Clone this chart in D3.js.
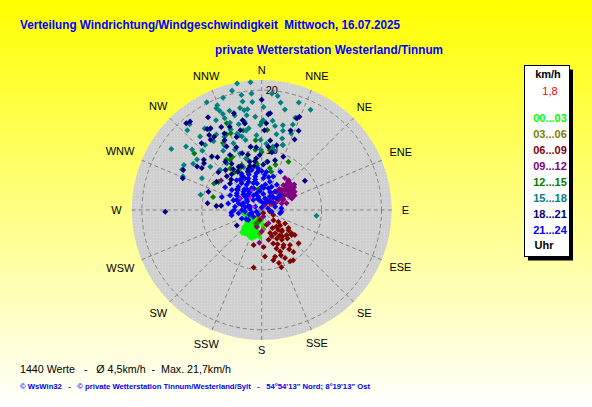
<!DOCTYPE html>
<html>
<head>
<meta charset="utf-8">
<script src="https://cdn.jsdelivr.net/npm/d3@7"></script>
<style>
  body { margin: 0; }
  svg { display: block; }
</style>
</head>
<body>
<script>
// -------- DATEN: [Richtung in Grad, Geschwindigkeit km/h] je Stundenblock --------

const directions = ["N","NNE","NE","ENE","E","ESE","SE","SSE","S","SSW","SW","WSW","W","WNW","NW","NNW"];
const ringTicks = [10, 20];
const maxSpeed = 21.7;

const h00_03 = [[228,3.3],[225,2.7],[212,2.6],[209,3.5],[197,2.9],[212,4.2],[200,4.1],[189,3.7],[204,4.9],[194,4.6],
  [221,3.8],[184,4.5],[230,2.2],[211,1.6],[180,1.7],[215,4.8],[174,2.5],[205,3.6],[218,3.1],[202,3.0],[192,2.2],
  [207,4.4],[199,5.0],[223,4.4],[260,3.1],[240,2.2],[250,2.8],[222,3.7],[195,4.3],[226,4.0],[216,3.3],[203,2.9],
  [217,2.1],[196,3.6],[232,3.1],[210,4.7],[220,5.0]];

const h03_06 = [[195,3.0],[200,2.0],[190,1.5],[205,2.5],[185,4.0],[175,3.2],[210,1.2]];

const h06_09 = [[153,0.6],[101,1.4],[131,2.6],[125,3.4],[138,3.7],[120,4.5],[124,5.4],[137,4.9],[150,4.5],[160,4.1],
  [167,5.1],[161,5.9],[146,6.0],[127,5.6],[128,6.3],[127,6.9],[141,7.5],[132,8.3],[156,7.6],[164,8.1],[167,8.6],
  [176,7.8],[193,6.0],[177,6.2],[159,4.7],[154,8.9],[151,9.8],[161,10.1],[188,9.7],[162,2.6],[113,2.1],[190,1.7],
  [149,3.5],[140,4.3],[135,5.9],[148,6.9],[159,6.9],[148,9.9],[143,8.8],[150,7.2],[155,6.3],[130,4.0],[135,4.8],
  [142,5.6],[130,6.5],[138,6.4],[145,5.2],[152,5.4],[157,8.2],[162,9.3],[145,8.0]];

const h09_12 = [[42,6.7],[36,6.6],[47,6.5],[58,6.2],[61,5.7],[55,5.4],[47,5.7],[41,5.5],[45,4.7],[57,4.6],[65,5.2],
  [51,3.9],[39,3.9],[59,3.2],[45,2.7],[63,2.5],[51,1.8],[72,3.5],[31,3.2],[27,1.9],[34,1.0],[325,5.8],[306,8.4],
  [184,5.5],[180,3.6],[197,2.9],[153,2.5],[166,1.1],[61,6.3],[65,4.0],[75,4.3],[69,5.4],[43,6.5],[53,6.0],[50,5.0],
  [50,6.2],[55,6.6],[44,6.1],[49,5.3],[60,5.0],[54,4.3],[62,4.0],[48,4.2],[57,3.6],[40,4.6],[66,6.0],[52,6.9]];

const h12_15 = [[338,15.6],[347,13.6],[355,11.7],[354,10.1],[0,9.7],[8,10.1],[29,9.2],[345,8.6],[323,8.7],[330,7.7],
  [285,8.4],[303,8.6],[325,10.3],[331,10.1],[354,7.5],[11,7.1],[310,14.7],[299,9.1],[338,13.8],[330,12.9],[335,13.9],
  [336,8.2],[324,7.8],[342,6.8],[354,7.8],[328,9.9],[0,14.7],[4,13.4],[18,11.4],[17,7.9],[14,6.6],[200,2.4],[350,3.5]];

const h15_18 = [[349,21.5],[355,21.4],[350,19.5],[355,19.5],[355,18.1],[348,17.4],[5,19.5],[8,19.2],[10,18.2],[13,17.2],
  [19,19.0],[26,18.6],[337,19.0],[337,18.0],[342,17.4],[344,16.4],[350,16.9],[351,16.0],[349,15.0],[351,13.8],
  [356,15.6],[359,14.2],[1,15.0],[4,16.1],[7,15.0],[9,14.2],[14,14.6],[20,15.2],[20,16.4],[15,13.7],[21,13.7],
  [11,12.9],[16,12.4],[18,11.4],[10,10.7],[4,11.1],[359,11.7],[356,12.5],[345,12.7],[342,13.4],[339,14.4],[333,13.7],
  [329,14.7],[327,16.0],[325,16.6],[320,18.7],[317,18.2],[304,18.2],[310,16.5],[311,15.4],[315,14.0],[319,14.4],
  [308,13.7],[300,15.0],[297,14.9],[293,14.3],[304,13.8],[298,11.3],[310,11.2],[314,9.6],[323,9.7],[337,12.1],
  [339,10.1],[343,9.0],[350,10.7],[359,10.1],[284,10.5],[96,9.2],[336,18.6],[338,17.3],[338,16.5],[350,18.4],
  [349,13.5],[12,10.1],[6,8.1],[336,11.0],[337,7.8],[325,14.0],[320,16.0],[1,17.2],[340,15.5],[345,14.8],[343,13.0],
  [347,12.0],[333,16.8],[330,12.5],[327,11.8],[352,17.0],[341,19.8],[346,20.5],[333,20.2]];

const h18_21 = [[0,18.4],[344,16.8],[348,15.3],[349,14.7],[5,16.2],[2,13.3],[3,14.5],[25,14.6],[25,13.0],[319,19.2],
  [326,16.3],[325,15.3],[324,14.5],[318,15.0],[311,12.8],[320,11.5],[318,9.0],[315,7.2],[277,9.1],[275,7.6],[276,6.8],
  [269,16.1],[310,5.4],[238,4.9],[56,8.7],[22,9.6],[15,8.6],[7,11.7],[355,10.5],[341,12.9],[339,14.9],[332,13.2],
  [331,12.1],[4,16.0],[21,16.4],[22,16.8],[20,14.1],[13,11.1],[6,10.6],[10,9.8],[7,8.1],[330,17.9],[321,19.0],
  [328,16.1],[327,14.6],[334,15.4],[334,14.2],[345,13.8],[338,11.3],[341,10.0],[350,10.7],[330,10.6],[317,12.2],
  [309,12.4],[304,13.0],[297,14.7],[292,14.2],[305,12.2],[311,9.6],[302,8.9],[289,9.4],[323,10.1],[327,9.2],
  [332,8.2],[346,8.3],[354,8.7],[335,8.0],[345,7.6],[352,8.2],[328,7.5],[340,6.8],[320,7.8],[355,6.5],[310,6.9],
  [342,7.2],[350,7.4],[330,6.6],[2,7.6],[358,9.2],[325,8.3],[314,8.1],[346,9.5]];

const h21_24 = [[331,6.9],[346,6.9],[355,7.0],[7,6.4],[19,5.9],[320,6.5],[332,6.0],[349,5.7],[3,5.3],[16,4.9],[31,4.9],
  [304,6.0],[315,5.5],[329,4.9],[343,4.7],[0,3.9],[17,3.8],[36,3.8],[51,3.9],[295,5.8],[304,5.0],[315,4.3],[327,3.6],
  [343,2.9],[6,2.7],[32,2.6],[52,3.2],[289,5.0],[298,4.1],[304,3.0],[320,2.2],[350,1.6],[31,1.6],[60,2.2],[277,4.5],
  [284,3.4],[287,2.3],[297,1.2],[0,0.4],[76,1.1],[262,3.9],[264,2.8],[255,1.7],[220,0.9],[247,3.6],[233,2.8],
  [231,1.8],[260,5.1],[281,5.7],[100,1.7],[100,3.1],[85,3.3],[302,7.2],[288,7.0],[95,3.3],[292,4.5],[265,5.1],
  [26,7.1],[337,5.7],[5,5.9],[323,5.6],[23,4.2],[335,4.0],[346,2.3],[16,2.0],[309,3.6],[286,4.0],[252,0.9],
  [286,2.0],[76,2.3],[340,6.3],[352,6.2],[0,6.5],[12,5.6],[325,6.2],[310,5.2],[300,4.8],[320,4.5],[335,5.2],
  [350,4.5],[8,4.3],[25,3.3],[40,2.9],[300,2.8],[315,3.2],[330,2.8],[340,2.0],[10,1.2],[280,2.8],[270,3.3],
  [275,2.0],[250,2.2],[240,3.0],[270,4.6],[290,3.3],[355,3.2],[5,3.7],[45,2.0],[320,3.5],[310,4.0],[340,3.8],
  [348,5.2],[325,4.2]];

const highlight = [[298,4.1],[292,1.5],[333,3.7],[316,2.8]];
const current = [[65,1.8]];

const series = [
  { label: "00...03", color: "#00ff00", values: h00_03 },
  { label: "03...06", color: "#808000", values: h03_06 },
  { label: "06...09", color: "#800000", values: h06_09 },
  { label: "09...12", color: "#800080", values: h09_12 },
  { label: "12...15", color: "#008000", values: h12_15 },
  { label: "15...18", color: "#008080", values: h15_18 },
  { label: "18...21", color: "#000080", values: h18_21 },
  { label: "21...24", color: "#0000ff", values: h21_24 }
];

// -------- LAYOUT --------
const width = 592, height = 407;
const cx = 261.7, cy = 210, outerR = 130;
const font = "'Liberation Sans', Arial, sans-serif";

const svg = d3.select("body").append("svg")
  .attr("width", width)
  .attr("height", height);

const defs = svg.append("defs");
const grad = defs.append("linearGradient")
  .attr("id", "bg").attr("x1", 0).attr("y1", 0).attr("x2", 0).attr("y2", 1);
grad.append("stop").attr("offset", "0%").attr("stop-color", "#ffff00");
grad.append("stop").attr("offset", "100%").attr("stop-color", "#ffffff");

const pat = defs.append("pattern")
  .attr("id", "dots").attr("width", 3).attr("height", 3)
  .attr("patternUnits", "userSpaceOnUse");
pat.append("rect").attr("width", 3).attr("height", 3).attr("fill", "#d0d0d0");
pat.append("rect").attr("width", 1).attr("height", 1).attr("fill", "#dcdcdc");

svg.append("rect")
  .attr("width", width).attr("height", height)
  .attr("fill", "url(#bg)");

// --- Skalen ---
const rScale = d3.scaleLinear().domain([0, maxSpeed]).range([0, outerR]);
const aScale = d3.scaleLinear().domain([0, 360]).range([0, 2 * Math.PI]);
const px = d => cx + rScale(d[1]) * Math.sin(aScale(d[0]));
const py = d => cy - rScale(d[1]) * Math.cos(aScale(d[0]));

const plot = svg.append("g");

plot.append("circle")
  .attr("cx", cx).attr("cy", cy).attr("r", outerR)
  .attr("fill", "url(#dots)");

// Gitter: Ringe und Strahlen
plot.selectAll(".ring")
  .data(ringTicks)
  .join("circle")
    .attr("class", "ring")
    .attr("cx", cx).attr("cy", cy)
    .attr("r", d => rScale(d))
    .attr("fill", "none")
    .attr("stroke", "#808080")
    .attr("stroke-dasharray", "4,3");

plot.selectAll(".spoke")
  .data(directions)
  .join("line")
    .attr("class", "spoke")
    .attr("x1", cx).attr("y1", cy)
    .attr("x2", (d, i) => px([i * 22.5, maxSpeed]))
    .attr("y2", (d, i) => py([i * 22.5, maxSpeed]))
    .attr("stroke", "#808080")
    .attr("stroke-dasharray", "4,3");

plot.selectAll(".ringLabel")
  .data(ringTicks)
  .join("text")
    .attr("class", "ringLabel")
    .attr("x", cx + 4)
    .attr("y", d => cy - rScale(d))
    .attr("dy", "0.35em")
    .attr("font-family", font)
    .attr("font-size", "11px")
    .text(d => d);

// Himmelsrichtungen
plot.selectAll(".dir")
  .data(directions)
  .join("text")
    .attr("class", "dir")
    .attr("text-anchor", "middle")
    .attr("dy", "0.35em")
    .attr("font-family", font)
    .attr("font-size", "11px")
    .text(d => d)
    .each(function(d, i) {
      const a = aScale(i * 22.5);
      const w = this.getComputedTextLength();
      const R = 140 + Math.abs(Math.sin(a)) * w / 2;
      d3.select(this)
        .attr("x", cx + R * Math.sin(a))
        .attr("y", cy - R * Math.cos(a));
    });

// --- Punkte ---
const diamond = d3.symbol().type(d3.symbolSquare).size(18);

series.forEach(s => {
  plot.append("g")
    .selectAll("path")
    .data(s.values)
    .join("path")
      .attr("d", diamond)
      .attr("transform", d => `translate(${px(d)},${py(d)}) rotate(45)`)
      .attr("fill", s.color);
});

plot.append("g")
  .selectAll("path")
  .data(highlight)
  .join("path")
    .attr("d", d3.symbol().type(d3.symbolSquare).size(7))
    .attr("transform", d => `translate(${px(d)},${py(d)}) rotate(45)`)
    .attr("fill", "#ff00ff");

plot.append("g")
  .selectAll("path")
  .data(current)
  .join("path")
    .attr("d", d3.symbol().type(d3.symbolSquare).size(7))
    .attr("transform", d => `translate(${px(d)},${py(d)}) rotate(45)`)
    .attr("fill", "#ff0000");

// -------- TITEL --------
svg.append("text")
  .attr("x", 20).attr("y", 29)
  .attr("font-family", font).attr("font-size", "13px").attr("font-weight", "bold")
  .attr("fill", "#0000ff")
  .attr("xml:space", "preserve")
  .attr("textLength", 380).attr("lengthAdjust", "spacingAndGlyphs")
  .text("Verteilung Windrichtung/Windgeschwindigkeit  Mittwoch, 16.07.2025");

svg.append("text")
  .attr("x", 215).attr("y", 54)
  .attr("font-family", font).attr("font-size", "13px").attr("font-weight", "bold")
  .attr("fill", "#0000ff")
  .attr("textLength", 228).attr("lengthAdjust", "spacingAndGlyphs")
  .text("private Wetterstation Westerland/Tinnum");

// -------- LEGENDE --------
const lx = 524.5, ly = 65.5, lw = 45, lh = 191, lc = 548;
svg.append("rect")
  .attr("x", lx + 3.5).attr("y", ly + 4).attr("width", lw).attr("height", lh)
  .attr("fill", "#000");
svg.append("rect")
  .attr("x", lx).attr("y", ly).attr("width", lw).attr("height", lh)
  .attr("fill", "#fff").attr("stroke", "#000");

svg.append("text")
  .attr("x", lc).attr("y", 78).attr("text-anchor", "middle")
  .attr("font-family", font).attr("font-size", "11px").attr("font-weight", "bold")
  .text("km/h");
svg.append("text")
  .attr("x", lc + 2).attr("y", 95).attr("text-anchor", "middle")
  .attr("font-family", font).attr("font-size", "11px")
  .attr("fill", "#ff0000")
  .text("1,8");

svg.selectAll(".leg")
  .data(series)
  .join("text")
    .attr("class", "leg")
    .attr("x", lc + 2)
    .attr("y", (d, i) => 122 + i * 16)
    .attr("text-anchor", "middle")
    .attr("font-family", font).attr("font-size", "11px").attr("font-weight", "bold")
    .attr("fill", d => d.color)
    .text(d => d.label);

svg.append("text")
  .attr("x", lc - 4).attr("y", 249).attr("text-anchor", "middle")
  .attr("font-family", font).attr("font-size", "11px").attr("font-weight", "bold")
  .text("Uhr");

// -------- FUSSZEILE --------
svg.append("text")
  .attr("x", 20).attr("y", 373)
  .attr("font-family", font).attr("font-size", "11px")
  .attr("textLength", 211).attr("lengthAdjust", "spacingAndGlyphs")
  .attr("xml:space", "preserve")
  .text("1440 Werte   -   Ø 4,5km/h  -  Max. 21,7km/h");

svg.append("text")
  .attr("x", 20).attr("y", 388.5)
  .attr("font-family", font).attr("font-size", "8px").attr("font-weight", "bold")
  .attr("fill", "#0000ff")
  .attr("textLength", 350).attr("lengthAdjust", "spacingAndGlyphs")
  .attr("xml:space", "preserve")
  .text("© WsWin32   -   © private Wetterstation Tinnum/Westerland/Sylt   -   54°54'13\" Nord; 8°19'13\" Ost");
</script>
</body>
</html>
